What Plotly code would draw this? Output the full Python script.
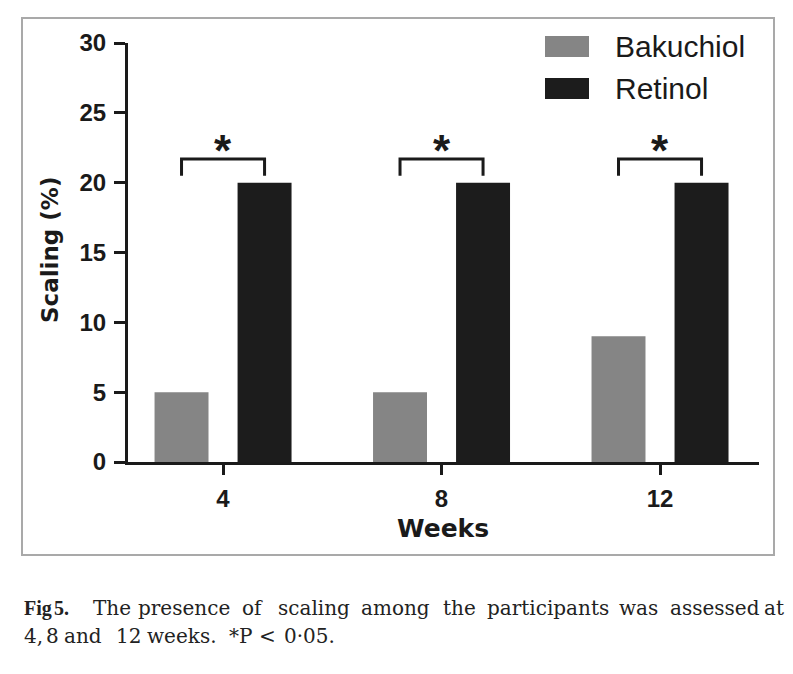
import plotly.graph_objects as go

# ---------------- data ----------------
weeks = ["4", "8", "12"]
series_names = ["Bakuchiol", "Retinol"]
bakuchiol = [5, 5, 9]
retinol = [20, 20, 20]
significance = ["*", "*", "*"]
y_ticks = [0, 5, 10, 15, 20, 25, 30]
x_title = "Weeks"
y_title = "Scaling (%)"
caption_line1 = ["Fig", "5.", "The", "presence", "of", "scaling", "among", "the",
                 "participants", "was", "assessed", "at"]
caption_line2 = ["4,", "8", "and", "12", "weeks.", "*P", "<", "0·05."]

# ---------------- layout constants ----------------
# page has an 8px body margin; figure sized to fit the 793x674 window
OX, OY = 8, 8
W, H = 793 - 2 * OX, 674 - 2 * OY
PLOT_L, PLOT_R, PLOT_T, PLOT_B = 128, 759, 43, 462   # window pixel coordinates
ML, MT = PLOT_L - OX, PLOT_T - OY
MR, MB = W - (PLOT_R - OX), H - (PLOT_B - OY)
PW, PH = PLOT_R - PLOT_L, PLOT_B - PLOT_T
BARGAP, GROUPGAP = 0.24, 0.35
OFFSET = (1 - BARGAP) / 4
GRAY, BLACK = "#858585", "#1c1c1c"
INK = "#1a1a1a"

def px(x):
    return (x - PLOT_L) / PW

def py(y):
    return (PLOT_B - y) / PH

idx = list(range(len(weeks)))

fig = go.Figure()
fig.add_trace(go.Bar(x=idx, y=bakuchiol, name=series_names[0],
                     marker=dict(color=GRAY, line=dict(width=0)), hoverinfo="skip"))
fig.add_trace(go.Bar(x=idx, y=retinol, name=series_names[1],
                     marker=dict(color=BLACK, line=dict(width=0)), hoverinfo="skip"))

# significance brackets
bx, by = [], []
for i in idx:
    top = max(bakuchiol[i], retinol[i])
    bx += [i - OFFSET, i - OFFSET, i + OFFSET, i + OFFSET, None]
    by += [top + 0.5, top + 1.7, top + 1.7, top + 0.5, None]
fig.add_trace(go.Scatter(x=bx, y=by, mode="lines", line=dict(color=INK, width=3),
                         showlegend=False, hoverinfo="skip", cliponaxis=False))

annotations = []
for i in idx:
    top = max(bakuchiol[i], retinol[i])
    annotations.append(dict(x=i, y=top + 2.3, xref="x", yref="y", text=significance[i],
                            showarrow=False, xanchor="center", yanchor="middle",
                            font=dict(family="Liberation Sans", size=44, color=INK, weight="bold")))

# axis titles
annotations.append(dict(x=px(442.5), y=py(528), xref="paper", yref="paper", text=x_title,
                        showarrow=False, xanchor="center", yanchor="middle",
                        font=dict(family="DejaVu Sans", size=25, color=INK, weight="bold")))
annotations.append(dict(x=px(50), y=py(250), xref="paper", yref="paper", text=y_title,
                        showarrow=False, textangle=-90, xanchor="center", yanchor="middle",
                        font=dict(family="DejaVu Sans", size=23, color=INK, weight="bold")))

# custom legend
shapes = []
legend_rows = [(46.5, GRAY), (88.5, BLACK)]
for name, (yc, col) in zip(series_names, legend_rows):
    shapes.append(dict(type="rect", xref="paper", yref="paper",
                       x0=px(545), x1=px(589), y0=py(yc - 10.5), y1=py(yc + 10.5),
                       fillcolor=col, line=dict(width=0)))
    annotations.append(dict(x=px(614), y=py(yc), xref="paper", yref="paper", text=name,
                            showarrow=False, xanchor="left", yanchor="middle", borderpad=0,
                            font=dict(family="Liberation Sans", size=30, color=INK)))

# figure border
shapes.append(dict(type="rect", xref="paper", yref="paper",
                   x0=px(22), x1=px(774), y0=py(555), y1=py(18),
                   fillcolor="rgba(0,0,0,0)", line=dict(color="#a9a9a9", width=2)))

# caption, word by word (justified in the original)
line1_x = [23, 53, 92, 137, 241, 277, 360, 442, 486, 618, 669, 763]
line2_x = [23, 45, 63, 115, 146, 228, 258, 283]
for k, (word, xw) in enumerate(zip(caption_line1, line1_x)):
    bold = k < 2
    annotations.append(dict(x=px(xw), y=py(608), xref="paper", yref="paper", text=word,
                            showarrow=False, xanchor="left", yanchor="middle", borderpad=0,
                            font=dict(family="Liberation Serif" if bold else "DejaVu Serif",
                                      size=20, color="#222222",
                                      weight="bold" if bold else "normal")))
for word, xw in zip(caption_line2, line2_x):
    annotations.append(dict(x=px(xw), y=py(636), xref="paper", yref="paper", text=word,
                            showarrow=False, xanchor="left", yanchor="middle", borderpad=0,
                            font=dict(family="DejaVu Serif", size=20, color="#222222")))

fig.update_layout(
    width=W, height=H,
    margin=dict(l=ML, r=MR, t=MT, b=MB, pad=0),
    paper_bgcolor="white", plot_bgcolor="white",
    barmode="group", bargap=BARGAP, bargroupgap=GROUPGAP,
    showlegend=False,
    shapes=shapes, annotations=annotations,
    xaxis=dict(range=[-0.435, 2.453], tickvals=idx, ticktext=weeks,
               showline=True, linewidth=3, linecolor=INK, ticks="outside",
               ticklen=10, tickwidth=3, tickcolor=INK, showgrid=False, zeroline=False,
               ticklabelstandoff=3,
               tickfont=dict(family="Liberation Sans", size=24, color=INK, weight="bold")),
    yaxis=dict(range=[0, 30], tickvals=y_ticks, showline=True, linewidth=3, linecolor=INK,
               ticks="outside", ticklen=11, tickwidth=3, tickcolor=INK,
               showgrid=False, zeroline=False, ticklabelstandoff=3,
               tickfont=dict(family="Liberation Sans", size=24, color=INK, weight="bold")),
)

fig.write_html("out.html", config={"displayModeBar": False})
